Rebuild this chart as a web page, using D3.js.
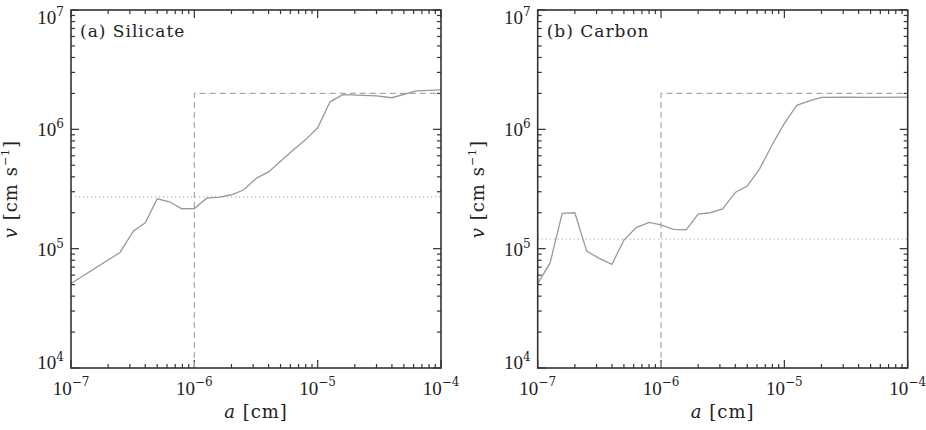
<!DOCTYPE html>
<html>
<head>
<meta charset="utf-8">
<script src="https://cdn.jsdelivr.net/npm/d3@7"></script>
<style>
  body { margin: 0; background: #fff; }
  svg text { font-family: "DejaVu Serif", serif; fill: #222; }
</style>
</head>
<body>
<div id="chart"></div>
<script>
// grain size a [cm] and velocity v [cm s^-1]
var sizeSil = [1e-7, 2.5e-7, 3.2e-7, 4e-7, 5e-7, 6.3e-7, 7.9e-7, 1e-6, 1.26e-6, 1.6e-6, 2e-6, 2.5e-6,
  3.2e-6, 4e-6, 6e-6, 8e-6, 1e-5, 1.26e-5, 1.6e-5, 3e-5, 4e-5, 6.3e-5, 1e-4];
var velSil = [5.1e4, 9.3e4, 1.4e5, 1.65e5, 2.62e5, 2.47e5, 2.16e5, 2.17e5, 2.65e5, 2.7e5, 2.83e5, 3.1e5,
  3.9e5, 4.4e5, 6.4e5, 8.2e5, 1.03e6, 1.7e6, 1.95e6, 1.91e6, 1.84e6, 2.1e6, 2.14e6];

var sizeCar = [1e-7, 1.26e-7, 1.58e-7, 2e-7, 2.5e-7, 3.16e-7, 4e-7, 5e-7, 6.3e-7, 8e-7, 1e-6, 1.26e-6,
  1.6e-6, 2e-6, 2.5e-6, 3.16e-6, 4e-6, 5e-6, 6.3e-6, 8e-6, 1e-5, 1.26e-5, 1.6e-5, 2e-5, 3.2e-5, 5e-5, 1e-4];
var velCar = [5.1e4, 7.6e4, 1.98e5, 2.0e5, 9.5e4, 8.3e4, 7.4e4, 1.18e5, 1.5e5, 1.66e5, 1.58e5, 1.45e5,
  1.44e5, 1.95e5, 2.0e5, 2.15e5, 2.96e5, 3.35e5, 4.66e5, 7.5e5, 1.12e6, 1.59e6, 1.73e6, 1.85e6, 1.86e6, 1.85e6, 1.86e6];

// reference lines
var aCut = 1e-6, vCut = 2e6;
var vDotSil = 2.72e5, vDotCar = 1.2e5;

var xTickExp = [-7, -6, -5, -4];
var yTickExp = [4, 5, 6, 7];
var panelTitles = ["(a) Silicate", "(b) Carbon"];

(function() {
  var W = 926, H = 430;
  var svg = d3.select("#chart").append("svg").attr("width", W).attr("height", H);

  var panels = [
    { left: 71, title: panelTitles[0], a: sizeSil, v: velSil, dot: vDotSil },
    { left: 537.7, title: panelTitles[1], a: sizeCar, v: velCar, dot: vDotCar }
  ];
  var pw = 370, yTop = 10, yBot = 368;

  panels.forEach(function(p) {
    var x = d3.scaleLog().domain([1e-7, 1e-4]).range([p.left, p.left + pw]);
    var y = d3.scaleLog().domain([1e4, 1e7]).range([yBot, yTop]);
    var g = svg.append("g");

    function isMajor(t) {
      return Math.abs(Math.log10(t) - Math.round(Math.log10(t))) < 1e-9;
    }

    // minor / major ticks, inward on all four sides
    x.ticks().forEach(function(t) {
      var len = isMajor(t) ? 8 : 4;
      g.append("line").attr("x1", x(t)).attr("x2", x(t)).attr("y1", yBot).attr("y2", yBot - len)
        .attr("stroke", "#333").attr("stroke-width", 1.2);
      g.append("line").attr("x1", x(t)).attr("x2", x(t)).attr("y1", yTop).attr("y2", yTop + len)
        .attr("stroke", "#333").attr("stroke-width", 1.2);
    });
    y.ticks().forEach(function(t) {
      var len = isMajor(t) ? 8 : 4;
      g.append("line").attr("y1", y(t)).attr("y2", y(t)).attr("x1", p.left).attr("x2", p.left + len)
        .attr("stroke", "#333").attr("stroke-width", 1.2);
      g.append("line").attr("y1", y(t)).attr("y2", y(t)).attr("x1", p.left + pw).attr("x2", p.left + pw - len)
        .attr("stroke", "#333").attr("stroke-width", 1.2);
    });

    // reference lines
    g.append("line")
      .attr("x1", x(1e-7)).attr("x2", x(1e-4)).attr("y1", y(p.dot)).attr("y2", y(p.dot))
      .attr("stroke", "#b5b5b5").attr("stroke-width", 1.2).attr("stroke-dasharray", "1.2,2.8");
    g.append("path")
      .attr("d", "M" + x(aCut) + "," + y(1e4) + "V" + y(vCut) + "H" + x(1e-4))
      .attr("fill", "none").attr("stroke", "#a8a8a8").attr("stroke-width", 1.2).attr("stroke-dasharray", "6,4");

    // curve
    var line = d3.line().x(function(d) { return x(d[0]); }).y(function(d) { return y(d[1]); });
    g.append("path")
      .datum(d3.zip(p.a, p.v))
      .attr("d", line)
      .attr("fill", "none").attr("stroke", "#999").attr("stroke-width", 1.3);

    // frame
    g.append("rect").attr("x", p.left).attr("y", yTop).attr("width", pw).attr("height", yBot - yTop)
      .attr("fill", "none").attr("stroke", "#333").attr("stroke-width", 1.6);

    // x tick labels
    xTickExp.forEach(function(e) {
      var t = g.append("text").attr("x", x(Math.pow(10, e))).attr("y", 395)
        .attr("text-anchor", "middle");
      t.append("tspan").attr("font-family", "Liberation Serif").attr("font-size", 19).text("10");
      t.append("tspan").attr("font-size", 12).attr("dy", -9).text("\u2212" + Math.abs(e));
    });

    // y tick labels
    yTickExp.forEach(function(e) {
      var ty = y(Math.pow(10, e)) + 7;
      ty = Math.max(24, Math.min(369, ty));
      var t = g.append("text").attr("x", p.left - 7).attr("y", ty).attr("text-anchor", "end");
      t.append("tspan").attr("font-family", "Liberation Serif").attr("font-size", 19).text("10");
      t.append("tspan").attr("font-size", 12).attr("dy", -8).text(e);
    });

    // panel title
    g.append("text").attr("x", p.left + 9).attr("y", 36.5)
      .attr("font-size", 17).attr("letter-spacing", 1).text(p.title);

    // x axis title
    var xt = g.append("text").attr("x", p.left + pw / 2).attr("y", 418)
      .attr("text-anchor", "middle").attr("font-size", 18).attr("letter-spacing", 1);
    xt.append("tspan").attr("font-style", "italic").text("a");
    xt.append("tspan").text(" [cm]");

    // y axis title
    var yt = g.append("text")
      .attr("transform", "translate(" + (p.left - 54) + "," + ((yTop + yBot) / 2) + ") rotate(-90)")
      .attr("text-anchor", "middle").attr("font-size", 18).attr("letter-spacing", 1);
    yt.append("tspan").attr("font-style", "italic").text("v");
    yt.append("tspan").text(" [cm s");
    yt.append("tspan").attr("font-size", 11).attr("dy", -8).text("\u22121");
    yt.append("tspan").attr("dy", 8).text("]");
  });
})();
</script>
</body>
</html>
